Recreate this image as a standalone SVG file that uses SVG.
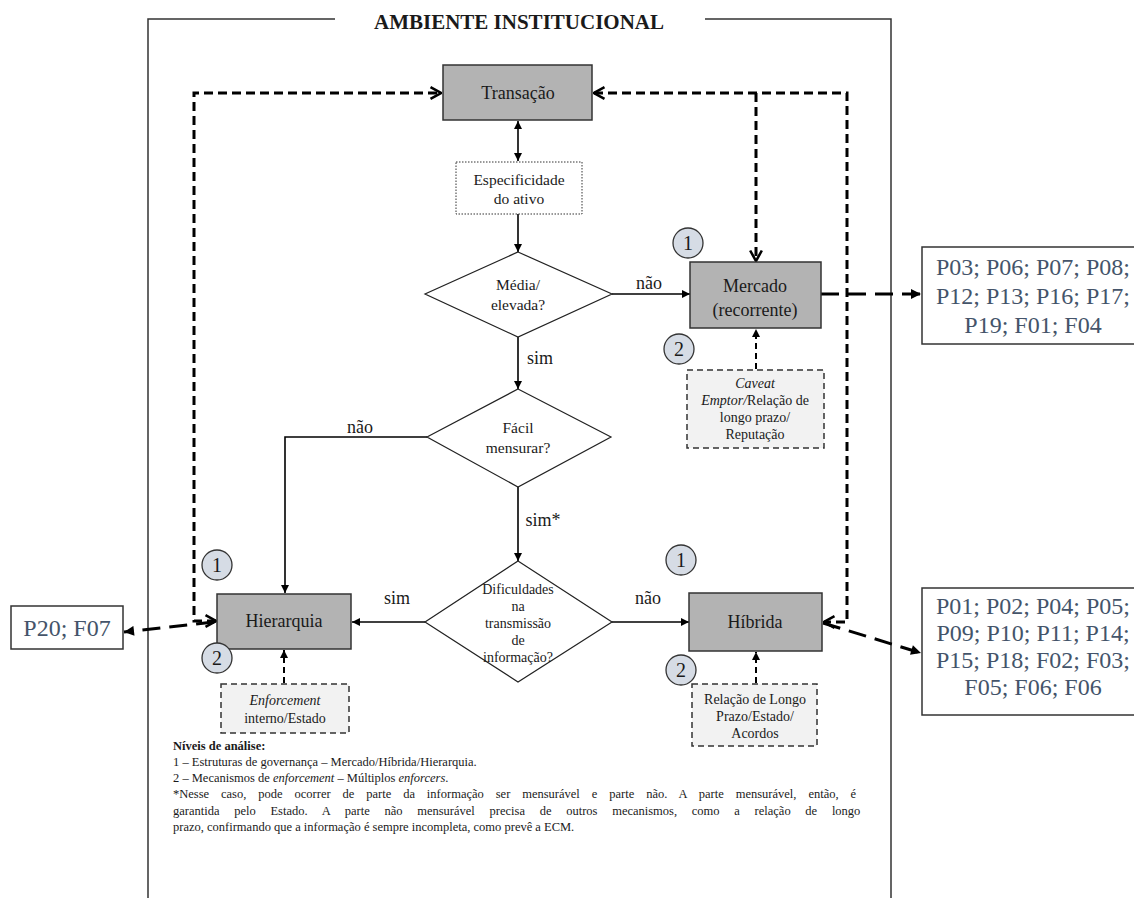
<svg xmlns="http://www.w3.org/2000/svg" width="1134" height="898" viewBox="0 0 1134 898" font-family="'Liberation Serif', 'Times New Roman', serif">
<style>
text{font-family:"Liberation Serif","Times New Roman",serif;fill:#1a1a1a}
.gbox{fill:#b3b3b3;stroke:#333;stroke-width:1.5}
.enf{fill:#f2f2f2;stroke:#333;stroke-width:1.5;stroke-dasharray:6 4}
.dia{fill:#fff;stroke:#222;stroke-width:1.2}
.circ{fill:#d6dce5;stroke:#333;stroke-width:1.3}
.num{font-size:20px;text-anchor:middle}
.lbl{font-size:18px;text-anchor:middle}
.md{font-size:15.5px;text-anchor:middle}
.sm{font-size:14px;text-anchor:middle}
.out{fill:#fff;stroke:#333;stroke-width:1.5}
.outt{font-size:24px;text-anchor:middle;fill:#44546a}
.solid{fill:none;stroke:#000;stroke-width:1.6}
.fb{fill:none;stroke:#000;stroke-width:3;stroke-dasharray:9 5}
.long{fill:none;stroke:#000;stroke-width:3;stroke-dasharray:18 9}
.enfa{fill:none;stroke:#000;stroke-width:2;stroke-dasharray:6 4}
.note{font-size:12.5px}
</style>
<defs>
<marker id="ar" viewBox="0 0 10 10" refX="10" refY="5" markerWidth="9" markerHeight="8" markerUnits="userSpaceOnUse" orient="auto-start-reverse"><path d="M0,0 L10,5 L0,10 z" fill="#000"/></marker>
<marker id="chev" viewBox="0 0 12 12" refX="11" refY="6" markerWidth="14" markerHeight="14" markerUnits="userSpaceOnUse" orient="auto-start-reverse"><path d="M2,1 L11,6 L2,11" fill="none" stroke="#000" stroke-width="2.2"/></marker>
<marker id="big" viewBox="0 0 10 10" refX="10" refY="5" markerWidth="11" markerHeight="10" markerUnits="userSpaceOnUse" orient="auto"><path d="M0,0 L10,5 L0,10 z" fill="#000"/></marker>
</defs>

<g id="frame">
<path d="M148,898 V19 H335 M705,19 H891 V898" fill="none" stroke="#333" stroke-width="1.5"/>
<text x="519" y="29" font-size="21" font-weight="bold" text-anchor="middle">AMBIENTE INSTITUCIONAL</text>
</g>

<g id="connectors">
<line class="solid" x1="518" y1="121" x2="518" y2="161" marker-start="url(#ar)" marker-end="url(#ar)"/>
<line class="solid" x1="518" y1="214" x2="518" y2="252" marker-end="url(#ar)"/>
<line class="solid" x1="612" y1="294" x2="690" y2="294" marker-end="url(#ar)"/>
<line class="solid" x1="518" y1="337" x2="518" y2="389" marker-end="url(#ar)"/>
<path class="solid" d="M427,437 H285 V593" marker-end="url(#ar)"/>
<line class="solid" x1="518" y1="487" x2="518" y2="561" marker-end="url(#ar)"/>
<line class="solid" x1="425" y1="622" x2="352" y2="622" marker-end="url(#ar)"/>
<line class="solid" x1="612" y1="622" x2="689" y2="622" marker-end="url(#ar)"/>
<path class="fb" d="M216,621 H194 V93 H441" marker-start="url(#chev)" marker-end="url(#chev)"/>
<path class="fb" d="M594,93 H847 V622 H824" marker-start="url(#chev)" marker-end="url(#chev)"/>
<path class="fb" d="M756,93 V261" marker-end="url(#chev)"/>
<line class="long" x1="821" y1="294" x2="921" y2="294" marker-end="url(#big)"/>
<line class="long" x1="823" y1="623" x2="921" y2="653" marker-end="url(#big)"/>
<line class="long" x1="214" y1="622" x2="124" y2="632" marker-end="url(#big)"/>
<line class="enfa" x1="756" y1="369" x2="756" y2="329" marker-end="url(#ar)"/>
<line class="enfa" x1="284" y1="683" x2="284" y2="650" marker-end="url(#ar)"/>
<line class="enfa" x1="756" y1="683" x2="756" y2="652" marker-end="url(#ar)"/>
<text x="649" y="289" class="lbl">não</text>
<text x="540" y="364" class="lbl">sim</text>
<text x="360" y="433" class="lbl">não</text>
<text x="543" y="526" class="lbl">sim*</text>
<text x="397" y="604" class="lbl">sim</text>
<text x="648" y="604" class="lbl">não</text>
</g>

<g id="transacao">
<rect class="gbox" x="443" y="65" width="149" height="55"/>
<text x="518" y="99" class="lbl">Transação</text>
</g>

<g id="especificidade">
<rect x="456" y="162" width="126" height="52" fill="#fff" stroke="#333" stroke-width="1" stroke-dasharray="1.5 1.5"/>
<text x="519" y="185" class="md">Especificidade</text>
<text x="519" y="204" class="md">do ativo</text>
</g>

<g id="d-media">
<polygon class="dia" points="518,252 612,294 518,337 425,294"/>
<text x="518" y="290" class="md">Média/</text>
<text x="518" y="310" class="md">elevada?</text>
</g>

<g id="mercado">
<rect class="gbox" x="690" y="262" width="131" height="66"/>
<text x="755" y="292" class="lbl">Mercado</text>
<text x="755" y="316" class="lbl">(recorrente)</text>
</g>

<g id="enf-mercado">
<rect class="enf" x="687" y="370" width="137" height="78"/>
<text x="755" y="388" class="sm"><tspan font-style="italic">Caveat</tspan></text>
<text x="755" y="405" class="sm"><tspan font-style="italic">Emptor/</tspan>Relação de</text>
<text x="755" y="422" class="sm">longo prazo/</text>
<text x="755" y="439" class="sm">Reputação</text>
</g>

<g id="d-facil">
<polygon class="dia" points="518,389 611,437 518,487 427,437"/>
<text x="518" y="433" class="md">Fácil</text>
<text x="518" y="453" class="md">mensurar?</text>
</g>

<g id="d-dificuldades">
<polygon class="dia" points="518,561 612,622 518,682 425,622"/>
<text x="518" y="594" class="sm">Dificuldades</text>
<text x="518" y="611" class="sm">na</text>
<text x="518" y="628" class="sm">transmissão</text>
<text x="518" y="645" class="sm">de</text>
<text x="518" y="662" class="sm">informação?</text>
</g>

<g id="hierarquia">
<rect class="gbox" x="217" y="594" width="134" height="55"/>
<text x="284" y="627" class="lbl">Hierarquia</text>
</g>

<g id="enf-hierarquia">
<rect class="enf" x="221" y="684" width="128" height="49"/>
<text x="285" y="705" class="sm"><tspan font-style="italic">Enforcement</tspan></text>
<text x="285" y="723" class="sm">interno/Estado</text>
</g>

<g id="hibrida">
<rect class="gbox" x="689" y="593" width="133" height="58"/>
<text x="755" y="628" class="lbl">Híbrida</text>
</g>

<g id="enf-hibrida">
<rect class="enf" x="692" y="684" width="125" height="62"/>
<text x="755" y="704" class="sm">Relação de Longo</text>
<text x="755" y="721" class="sm">Prazo/Estado/</text>
<text x="755" y="738" class="sm">Acordos</text>
</g>

<g id="circles">
<circle class="circ" cx="688" cy="243" r="15"/><text x="688" y="250" class="num">1</text>
<circle class="circ" cx="679" cy="349" r="15"/><text x="679" y="356" class="num">2</text>
<circle class="circ" cx="217" cy="565" r="15"/><text x="217" y="572" class="num">1</text>
<circle class="circ" cx="217" cy="658" r="15"/><text x="217" y="665" class="num">2</text>
<circle class="circ" cx="681" cy="560" r="15"/><text x="681" y="567" class="num">1</text>
<circle class="circ" cx="681" cy="670" r="15"/><text x="681" y="677" class="num">2</text>
</g>

<g id="out-mercado">
<rect class="out" x="922" y="247" width="220" height="97"/>
<text x="1033" y="275" class="outt">P03; P06; P07; P08;</text>
<text x="1033" y="304" class="outt">P12; P13; P16; P17;</text>
<text x="1033" y="333" class="outt">P19; F01; F04</text>
</g>

<g id="out-hibrida">
<rect class="out" x="922" y="588" width="220" height="127"/>
<text x="1033" y="614" class="outt">P01; P02; P04; P05;</text>
<text x="1033" y="641" class="outt">P09; P10; P11; P14;</text>
<text x="1033" y="668" class="outt">P15; P18; F02; F03;</text>
<text x="1033" y="695" class="outt">F05; F06; F06</text>
</g>

<g id="out-hierarquia">
<rect class="out" x="11" y="606" width="112" height="43"/>
<text x="67" y="636" class="outt">P20; F07</text>
</g>

<g id="notes">
<text x="173" y="750" class="note" font-weight="bold">Níveis de análise:</text>
<text x="173" y="766" class="note">1 – Estruturas de governança – Mercado/Híbrida/Hierarquia.</text>
<text x="173" y="782" class="note">2 – Mecanismos de <tspan font-style="italic">enforcement</tspan> – Múltiplos <tspan font-style="italic">enforcers</tspan>.</text>
<text x="173" y="798" class="note" word-spacing="8.8">*Nesse caso, pode ocorrer de parte da informação ser mensurável e parte não. A parte mensurável, então, é</text>
<text x="173" y="815" class="note" word-spacing="11.6">garantida pelo Estado. A parte não mensurável precisa de outros mecanismos, como a relação de longo</text>
<text x="173" y="831" class="note">prazo, confirmando que a informação é sempre incompleta, como prevê a ECM.</text>
</g>
</svg>
